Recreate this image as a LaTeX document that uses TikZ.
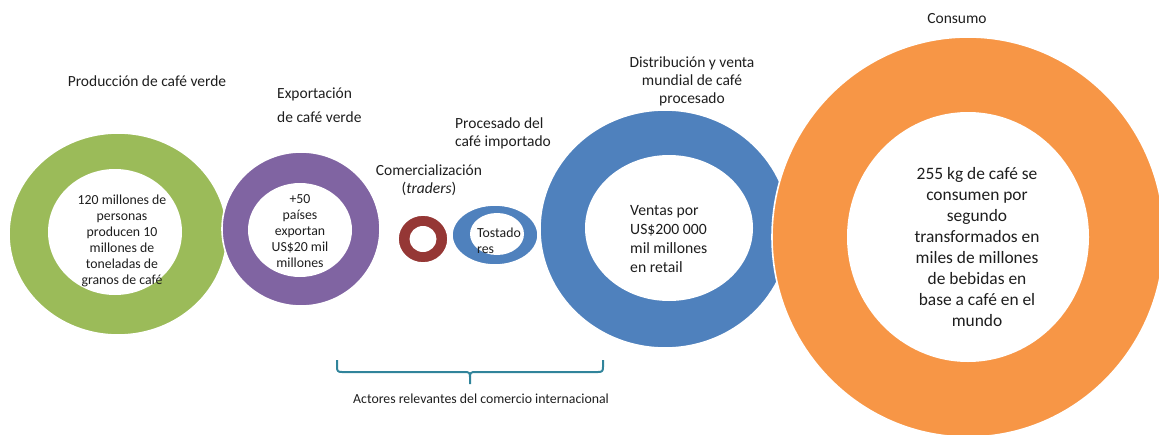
\documentclass[tikz,border=0pt]{standalone}
\usepackage{fontspec}
\setmainfont{Carlito}
\usetikzlibrary{shapes.geometric}
\definecolor{cgreen}{HTML}{9BBB59}
\definecolor{cpurple}{HTML}{8064A2}
\definecolor{cred}{HTML}{953735}
\definecolor{cblue}{HTML}{4F81BD}
\definecolor{corange}{HTML}{F79646}
\definecolor{cteal}{HTML}{31849B}
\definecolor{txt}{HTML}{1E1E1E}
\begin{document}
\begin{tikzpicture}[x=1pt,y=-1pt,
  ring/.style={ellipse, draw=white, line width=1.6pt, inner sep=0, outer sep=0},
  hole/.style={ellipse, fill=white, inner sep=0, outer sep=0},
  lbl/.style={font=\fontsize{15.5}{18}\selectfont, text=txt, inner sep=0},
  small/.style={font=\fontsize{13.8}{16}\selectfont, text=txt, inner sep=0},
  mid/.style={font=\fontsize{15.7}{19}\selectfont, text=txt, inner sep=0},
  big/.style={font=\fontsize{17.4}{21}\selectfont, text=txt, inner sep=0}]
\useasboundingbox (0,0) rectangle (1159,434);
\clip (0,0) rectangle (1159,434);
% rings
\node[ring, fill=cgreen, minimum width=218pt, minimum height=202pt] (g) at (118,234) {};
\node[hole, minimum width=134pt, minimum height=126pt] (gi) at (115,232) {};
\node[ring, fill=cpurple, minimum width=158pt, minimum height=154pt] (p) at (301,229) {};
\node[hole, minimum width=104pt, minimum height=94pt] (pi) at (300,230) {};
\node[ring, fill=cred, minimum width=50pt, minimum height=48pt] (r) at (423,239) {};
\node[hole, minimum width=27pt, minimum height=26pt] (ri) at (423,239) {};
\node[ring, fill=cblue, minimum width=86pt, minimum height=60pt] (sb) at (495,235) {};
\node[hole, minimum width=54pt, minimum height=42pt] (sbi) at (497,234) {};
\node[ring, fill=cblue, minimum width=250pt, minimum height=238pt] (bb) at (665,229) {};
\node[hole, minimum width=168pt, minimum height=146pt] (bbi) at (669,228) {};
\node[ring, fill=corange, minimum width=392pt, minimum height=400pt] (o) at (968,237) {};
\node[hole, minimum width=242pt, minimum height=250pt] (oi) at (968,237) {};
% labels
\node[lbl] (l1) at (147,81) {Producción de café verde};
\node[lbl, anchor=west, align=left, font=\fontsize{15.5}{24}\selectfont] (l2) at (277,105) {Exportación\\de café verde};
\node[lbl, align=center] (l3) at (429,180) {Comercialización\\(\textit{traders})};
\node[lbl, anchor=west, align=left] (l4) at (455,133) {Procesado del\\café importado};
\node[lbl, align=center] (l5) at (692,81) {Distribución y venta\\mundial de café\\procesado};
\node[lbl] (l6) at (957,19) {Consumo};
% inner texts
\node[small, align=center] (t1) at (122,241) {120 millones de\\personas\\producen 10\\millones de\\toneladas de\\granos de café};
\node[small, align=center] (t2) at (300,231) {+50\\países\\exportan\\US\$20 mil\\millones};
\node[small, anchor=west, align=left] (t3) at (477,241) {Tostado\\res};
\node[mid, anchor=west, align=left] (t4) at (630,239) {Ventas por\\US\$200 000\\mil millones\\en retail};
\node[big, align=center] (t5) at (977,247) {255 kg de café se\\consumen por\\segundo\\transformados en\\miles de millones\\de bebidas en\\base a café en el\\mundo};
% brace
\coordinate (bl) at (337,360);
\coordinate (br) at (603,360);
\coordinate (bt) at (470,384);
\draw[cteal, line width=2pt, line join=round]
  (bl) -- (337,367) .. controls (337,371) and (338,372) .. (342,372) -- (465,372)
  .. controls (469,372) and (470,373) .. (470,377) -- (bt);
\draw[cteal, line width=2pt, line join=round]
  (br) -- (603,367) .. controls (603,371) and (602,372) .. (598,372) -- (475,372)
  .. controls (471,372) and (470,373) .. (470,377);
\node[small] (bx) at (481,399) {Actores relevantes del comercio internacional};
\end{tikzpicture}
\end{document}
